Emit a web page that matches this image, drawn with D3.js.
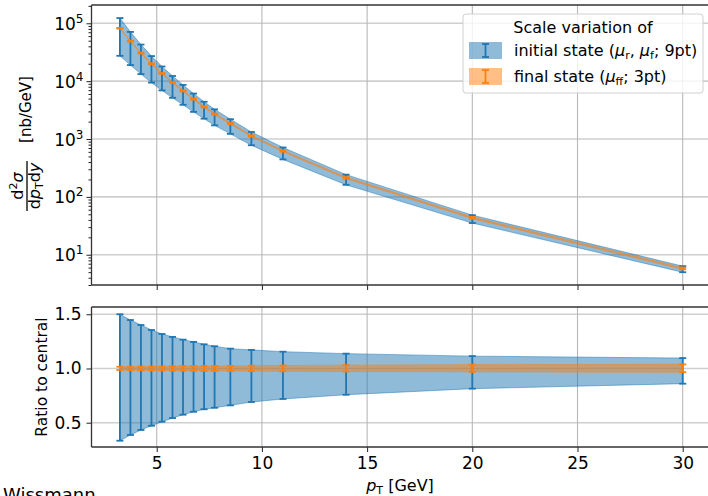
<!DOCTYPE html>
<html>
<head>
<meta charset="utf-8">
<script src="https://cdn.jsdelivr.net/npm/d3@7"></script>
<style>
  body { margin: 0; background: #fff; }
  text { font-family: "DejaVu Sans", sans-serif; fill: #000; }
</style>
</head>
<body>
<script>
// data
let pT = [3.25, 3.75, 4.25, 4.75, 5.25, 5.75, 6.25, 6.75, 7.25, 7.75, 8.5, 9.5, 11, 14, 20, 30];
let central = [8.2e4, 4.9e4, 3.06e4, 2.0e4, 1.36e4, 9.5e3, 6.8e3, 4.9e3, 3.6e3, 2.7e3, 1860, 1130, 618, 213, 43.4, 5.8];
// initial state (mu_r, mu_f) ratio envelope
let isUp = [1.50, 1.447, 1.401, 1.355, 1.318, 1.291, 1.266, 1.245, 1.223, 1.205, 1.183, 1.171, 1.155, 1.137, 1.114, 1.096];
let isDown = [0.334, 0.387, 0.433, 0.472, 0.509, 0.543, 0.574, 0.601, 0.624, 0.638, 0.66, 0.691, 0.719, 0.758, 0.814, 0.86];
// final state (mu_ff) ratio envelope
let fsUp = [1.016, 1.016, 1.017, 1.018, 1.019, 1.02, 1.021, 1.022, 1.022, 1.023, 1.024, 1.026, 1.028, 1.031, 1.035, 1.038];
let fsDown = [0.986, 0.985, 0.984, 0.983, 0.982, 0.981, 0.98, 0.979, 0.978, 0.978, 0.977, 0.976, 0.974, 0.972, 0.969, 0.966];

let xTicks = [5, 10, 15, 20, 25, 30],
  yTopTicks = [1e1, 1e2, 1e3, 1e4, 1e5],
  yBotTicks = [0.5, 1.0, 1.5];

let blue = "#1f77b4",
  orange = "#ff7f0e";

let width = 708,
  height = 496;
let left = 91.5,
  right = 709,
  top1 = 5,
  bot1 = 285,
  top2 = 307,
  bot2 = 447;

let svg = d3.select("body").append("svg").attr("width", width).attr("height", height);

let x = d3.scaleLinear().domain([1.9, 31.25]).range([left, right]);
let yTop = d3.scaleLog().domain([3.0, 2.07e5]).range([bot1, top1]);
let yBot = d3.scaleLinear().domain([0.276, 1.567]).range([bot2, top2]);

let rows = pT.map((p, i) => ({
  pT: p,
  c: central[i],
  isUp: isUp[i],
  isDown: isDown[i],
  fsUp: fsUp[i],
  fsDown: fsDown[i],
}));

// grids
function grid(y0, y1, yScale, yVals) {
  let g = svg.append("g");
  g.selectAll("line.h")
    .data(yVals)
    .enter()
    .append("line")
    .attr("x1", left)
    .attr("x2", right)
    .attr("y1", (d) => yScale(d))
    .attr("y2", (d) => yScale(d))
    .attr("stroke", "#cfcfcf")
    .attr("stroke-width", 1.6);
  g.selectAll("line.v")
    .data(xTicks)
    .enter()
    .append("line")
    .attr("x1", (d) => x(d))
    .attr("x2", (d) => x(d))
    .attr("y1", y0)
    .attr("y2", y1)
    .attr("stroke", "#b8b8b8")
    .attr("stroke-width", 1.1);
}
grid(top1, bot1, yTop, yTopTicks);
grid(top2, bot2, yBot, yBotTicks);

// bands
function band(yScale, lo, hi, color) {
  let area = d3
    .area()
    .x((d) => x(d.pT))
    .y0((d) => yScale(lo(d)))
    .y1((d) => yScale(hi(d)));
  svg.append("path")
    .datum(rows)
    .attr("d", area)
    .attr("fill", color)
    .attr("fill-opacity", 0.5)
    .attr("stroke", color)
    .attr("stroke-opacity", 0.5)
    .attr("stroke-width", 1);
}

function errbars(yScale, lo, hi, color) {
  let g = svg.append("g").attr("stroke", color).attr("stroke-width", 1.8);
  g.selectAll("line.bar")
    .data(rows)
    .enter()
    .append("line")
    .attr("x1", (d) => x(d.pT))
    .attr("x2", (d) => x(d.pT))
    .attr("y1", (d) => yScale(lo(d)))
    .attr("y2", (d) => yScale(hi(d)));
  [lo, hi].forEach((f) => {
    g.selectAll(null)
      .data(rows)
      .enter()
      .append("line")
      .attr("x1", (d) => x(d.pT) - 3.5)
      .attr("x2", (d) => x(d.pT) + 3.5)
      .attr("y1", (d) => yScale(f(d)))
      .attr("y2", (d) => yScale(f(d)));
  });
}

// upper panel
band(yTop, (d) => d.c * d.isDown, (d) => d.c * d.isUp, blue);
errbars(yTop, (d) => d.c * d.isDown, (d) => d.c * d.isUp, blue);
band(yTop, (d) => d.c * d.fsDown, (d) => d.c * d.fsUp, orange);
errbars(yTop, (d) => d.c * d.fsDown, (d) => d.c * d.fsUp, orange);

// lower panel
band(yBot, (d) => d.isDown, (d) => d.isUp, blue);
errbars(yBot, (d) => d.isDown, (d) => d.isUp, blue);
band(yBot, (d) => d.fsDown, (d) => d.fsUp, orange);
errbars(yBot, (d) => d.fsDown, (d) => d.fsUp, orange);

// axes
function styleAxis(g) {
  g.select(".domain").remove();
  g.selectAll(".tick line").attr("stroke", "#222").attr("stroke-width", 1);
  g.selectAll(".tick text").attr("font-size", 17).attr("font-family", "DejaVu Sans").attr("fill", "#000");
}

let minors = yTop.ticks().filter((v) => !yTopTicks.includes(v) && v >= 3.0);
svg.append("g")
  .attr("transform", "translate(" + left + ",0)")
  .call(d3.axisLeft(yTop).tickValues(minors).tickSize(3).tickFormat(""))
  .call(styleAxis);

let yTopAxis = svg
  .append("g")
  .attr("transform", "translate(" + left + ",0)")
  .call(d3.axisLeft(yTop).tickValues(yTopTicks).tickSize(5).tickPadding(5).tickFormat(""))
  .call(styleAxis);
yTopAxis.selectAll(".tick").each(function (d) {
  let t = d3.select(this)
    .append("text")
    .attr("x", -8)
    .attr("y", 6)
    .attr("text-anchor", "end")
    .attr("font-size", 17);
  t.append("tspan").text("10");
  t.append("tspan").attr("dy", -7).attr("font-size", 12).text(Math.round(Math.log10(d)));
});

svg.append("g")
  .attr("transform", "translate(0," + bot1 + ")")
  .call(d3.axisBottom(x).tickValues(xTicks).tickSize(5).tickFormat(""))
  .call(styleAxis);

svg.append("g")
  .attr("transform", "translate(" + left + ",0)")
  .call(d3.axisLeft(yBot).tickValues(yBotTicks).tickSize(5).tickPadding(5).tickFormat(d3.format(".1f")))
  .call(styleAxis);

svg.append("g")
  .attr("transform", "translate(0," + bot2 + ")")
  .call(d3.axisBottom(x).tickValues(xTicks).tickSize(5).tickPadding(5))
  .call(styleAxis);

// spines
[[top1, bot1], [top2, bot2]].forEach(([a, b]) => {
  let s = svg.append("g").attr("stroke", "#333").attr("stroke-width", 1.3).attr("fill", "none");
  s.append("line").attr("x1", left).attr("x2", right).attr("y1", a).attr("y2", a);
  s.append("line").attr("x1", left).attr("x2", right).attr("y1", b).attr("y2", b);
  s.append("line").attr("x1", left).attr("x2", left).attr("y1", a).attr("y2", b);
});

// legend
let lg = svg.append("g");
lg.append("rect")
  .attr("x", 463)
  .attr("y", 14)
  .attr("width", 240)
  .attr("height", 79)
  .attr("rx", 3)
  .attr("fill", "#fff")
  .attr("fill-opacity", 0.8)
  .attr("stroke", "#d0d0d0");
lg.append("text").attr("x", 583).attr("y", 33).attr("text-anchor", "middle").attr("font-size", 16).text("Scale variation of");

function handle(y, color) {
  lg.append("rect").attr("x", 469).attr("y", y).attr("width", 33).attr("height", 17).attr("fill", color).attr("fill-opacity", 0.5);
  let h = lg.append("g").attr("stroke", color).attr("stroke-width", 1.8);
  h.append("line").attr("x1", 485.5).attr("x2", 485.5).attr("y1", y + 2).attr("y2", y + 15);
  h.append("line").attr("x1", 482).attr("x2", 489).attr("y1", y + 2).attr("y2", y + 2);
  h.append("line").attr("x1", 482).attr("x2", 489).attr("y1", y + 15).attr("y2", y + 15);
}
handle(42, blue);
handle(68, orange);

let l1 = lg.append("text").attr("x", 514).attr("y", 56).attr("font-size", 16);
l1.append("tspan").text("initial state (");
l1.append("tspan").attr("font-style", "italic").text("μ");
l1.append("tspan").attr("dy", 3).attr("font-size", 11).text("r");
l1.append("tspan").attr("dy", -3).text(", ");
l1.append("tspan").attr("font-style", "italic").text("μ");
l1.append("tspan").attr("dy", 3).attr("font-size", 11).text("f");
l1.append("tspan").attr("dy", -3).text("; 9pt)");

let l2 = lg.append("text").attr("x", 514).attr("y", 82).attr("font-size", 16);
l2.append("tspan").text("final state (");
l2.append("tspan").attr("font-style", "italic").text("μ");
l2.append("tspan").attr("dy", 3).attr("font-size", 11).text("ff");
l2.append("tspan").attr("dy", -3).text("; 3pt)");

// axis labels
let xl = svg.append("text").attr("x", 400).attr("y", 491).attr("text-anchor", "middle").attr("font-size", 16);
xl.append("tspan").attr("font-style", "italic").text("p");
xl.append("tspan").attr("dy", 3).attr("font-size", 11).text("T");
xl.append("tspan").attr("dy", -3).text(" [GeV]");

svg.append("text")
  .attr("transform", "translate(46.5,377) rotate(-90)")
  .attr("text-anchor", "middle")
  .attr("font-size", 15.5)
  .text("Ratio to central");

// upper y label: fraction plus unit, rotated
let yl = svg.append("g").attr("transform", "translate(27,146) rotate(-90)");
let num = yl.append("text").attr("x", -40).attr("y", -4).attr("text-anchor", "middle").attr("font-size", 16);
num.append("tspan").text("d");
num.append("tspan").attr("dy", -6).attr("font-size", 11).text("2");
num.append("tspan").attr("dy", 6).attr("font-style", "italic").text("σ");
yl.append("line").attr("x1", -65).attr("x2", -15).attr("y1", 0).attr("y2", 0).attr("stroke", "#000").attr("stroke-width", 1.3);
let den = yl.append("text").attr("x", -40).attr("y", 13).attr("text-anchor", "middle").attr("font-size", 16);
den.append("tspan").text("d");
den.append("tspan").attr("font-style", "italic").text("p");
den.append("tspan").attr("dy", 3).attr("font-size", 11).text("T");
den.append("tspan").attr("dy", -3).text("d");
den.append("tspan").attr("font-style", "italic").text("y");

svg.append("text")
  .attr("transform", "translate(31,109.5) rotate(-90)")
  .attr("text-anchor", "middle")
  .attr("font-size", 15)
  .text("[nb/GeV]");

// footer name, cut by the bottom edge as in the original
svg.append("text")
  .attr("x", 3)
  .attr("y", 501)
  .attr("font-family", "'Noto Sans', sans-serif")
  .attr("font-size", 18)
  .attr("fill", "#4f6477")
  .text("Wissmann");
</script>
</body>
</html>
